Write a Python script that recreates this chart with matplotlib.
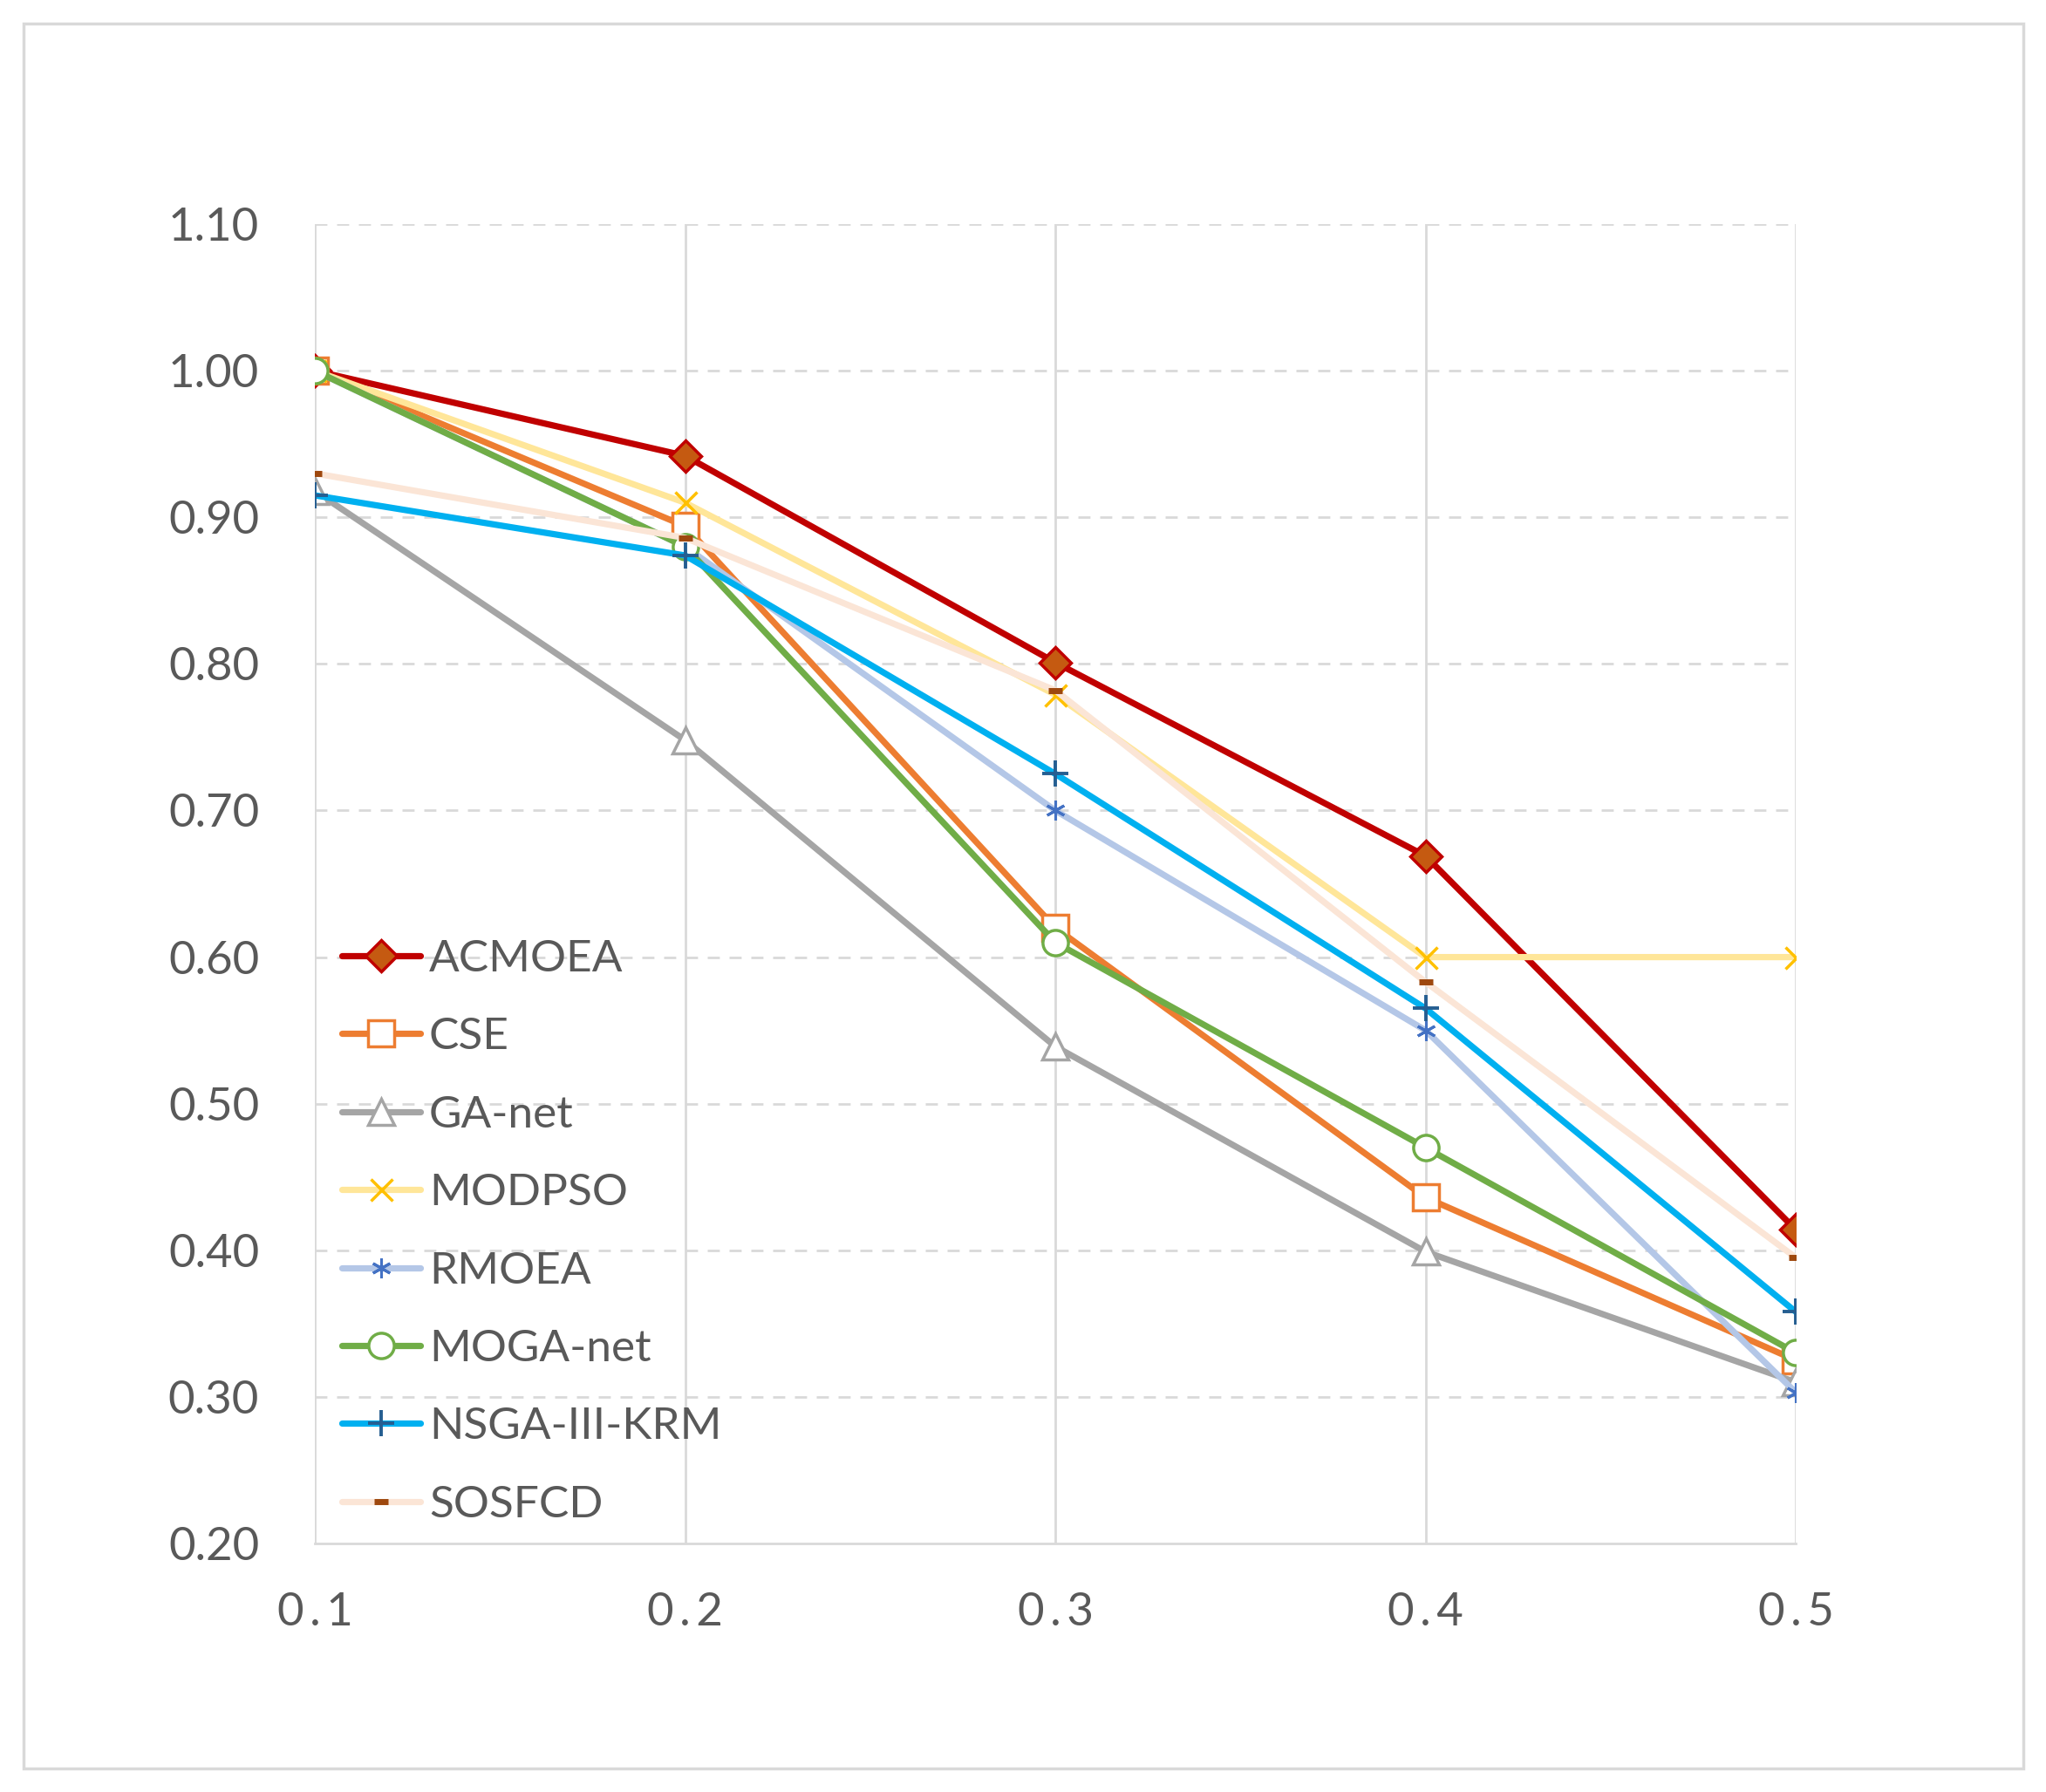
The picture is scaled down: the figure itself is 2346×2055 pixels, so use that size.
import matplotlib
matplotlib.use("Agg")
import matplotlib.pyplot as plt
from matplotlib.patches import Rectangle
import numpy as np

# ---- data ----
x_labels = ["0.1", "0.2", "0.3", "0.4", "0.5"]
acmoea = [1.00, 0.942, 0.801, 0.669, 0.414]
cse = [1.00, 0.894, 0.620, 0.436, 0.325]
ga_net = [0.918, 0.748, 0.539, 0.399, 0.310]
modpso = [1.00, 0.910, 0.779, 0.600, 0.600]
rmoea = [1.00, 0.880, 0.700, 0.550, 0.303]
moga_net = [1.00, 0.880, 0.610, 0.470, 0.330]
nsga3_krm = [0.915, 0.874, 0.725, 0.565, 0.358]
sosfcd = [0.930, 0.886, 0.782, 0.583, 0.395]
series_names = ["ACMOEA", "CSE", "GA-net", "MODPSO", "RMOEA", "MOGA-net", "NSGA-III-KRM", "SOSFCD"]
y_ticks = [0.20, 0.30, 0.40, 0.50, 0.60, 0.70, 0.80, 0.90, 1.00, 1.10]

FONT = ["Lato", "DejaVu Sans"]
TXT = "#595959"
GRID = "#D9D9D9"

fig = plt.figure(figsize=(23.46, 20.55), dpi=100)
ax = fig.add_axes([0.1539, 0.1387, 0.8777 - 0.1539, 0.8749 - 0.1387])

xs = np.arange(len(x_labels))

styles = [
    dict(color="#C00000", marker="D", ms=18, mfc="#C55A11", mec="#C00000", mew=2.5),
    dict(color="#ED7D31", marker="s", ms=21, mfc="white", mec="#ED7D31", mew=2.5),
    dict(color="#A5A5A5", marker="^", ms=22, mfc="white", mec="#A5A5A5", mew=2.5),
    dict(color="#FFE699", marker="x", ms=18, mfc="#FFC000", mec="#FFC000", mew=2.5),
    dict(color="#B4C7E7", marker=(6, 2, 0), ms=16, mfc="#4472C4", mec="#4472C4", mew=2.2),
    dict(color="#70AD47", marker="o", ms=21, mfc="white", mec="#70AD47", mew=2.5),
    dict(color="#00B0F0", marker="+", ms=22, mfc="#255E91", mec="#255E91", mew=2.8),
    dict(color="#FBE5D6", marker="_", ms=11, mfc="#9E480E", mec="#9E480E", mew=5),
]
data = [acmoea, cse, ga_net, modpso, rmoea, moga_net, nsga3_krm, sosfcd]

for i, (name, vals, st) in enumerate(zip(series_names, data, styles)):
    ax.plot(xs, vals, label=name, lw=5.2, solid_capstyle="round", zorder=3 + i, **st)

ax.set_xlim(xs[0], xs[-1])
ax.set_ylim(0.20, 1.10)
ax.set_yticks(y_ticks)
ax.set_yticklabels([f"{v:.2f}" for v in y_ticks], fontsize=38, color=TXT, family=FONT)
ax.set_xticks(xs)
ax.set_xticklabels(["\u2009".join(l) for l in x_labels], fontsize=38, color=TXT, family=FONT)
ax.tick_params(axis="both", length=0)
ax.tick_params(axis="y", pad=46)
ax.tick_params(axis="x", pad=40)

for s in ["top", "right", "left"]:
    ax.spines[s].set_visible(False)
ax.spines["bottom"].set_color(GRID)
ax.spines["bottom"].set_linewidth(2)

for yv in y_ticks[1:]:
    ax.axhline(yv, color=GRID, lw=2, ls=(0, (5, 4)), zorder=1)
for xv in xs:
    ax.axvline(xv, color=GRID, lw=2, zorder=1)

leg = ax.legend(loc="upper left", bbox_to_anchor=(0.167, 0.476), bbox_transform=fig.transFigure,
                frameon=False, prop={"family": FONT, "size": 37}, handlelength=1.75,
                handletextpad=0.2, labelspacing=0.845, borderaxespad=0, borderpad=0)
for t in leg.get_texts():
    t.set_color(TXT)

fig.patches.append(Rectangle((0.0115, 0.0131), 0.9774, 0.9737, transform=fig.transFigure,
                             fill=False, edgecolor=GRID, lw=2.5))

fig.savefig("out.png", dpi=100, facecolor="white")
